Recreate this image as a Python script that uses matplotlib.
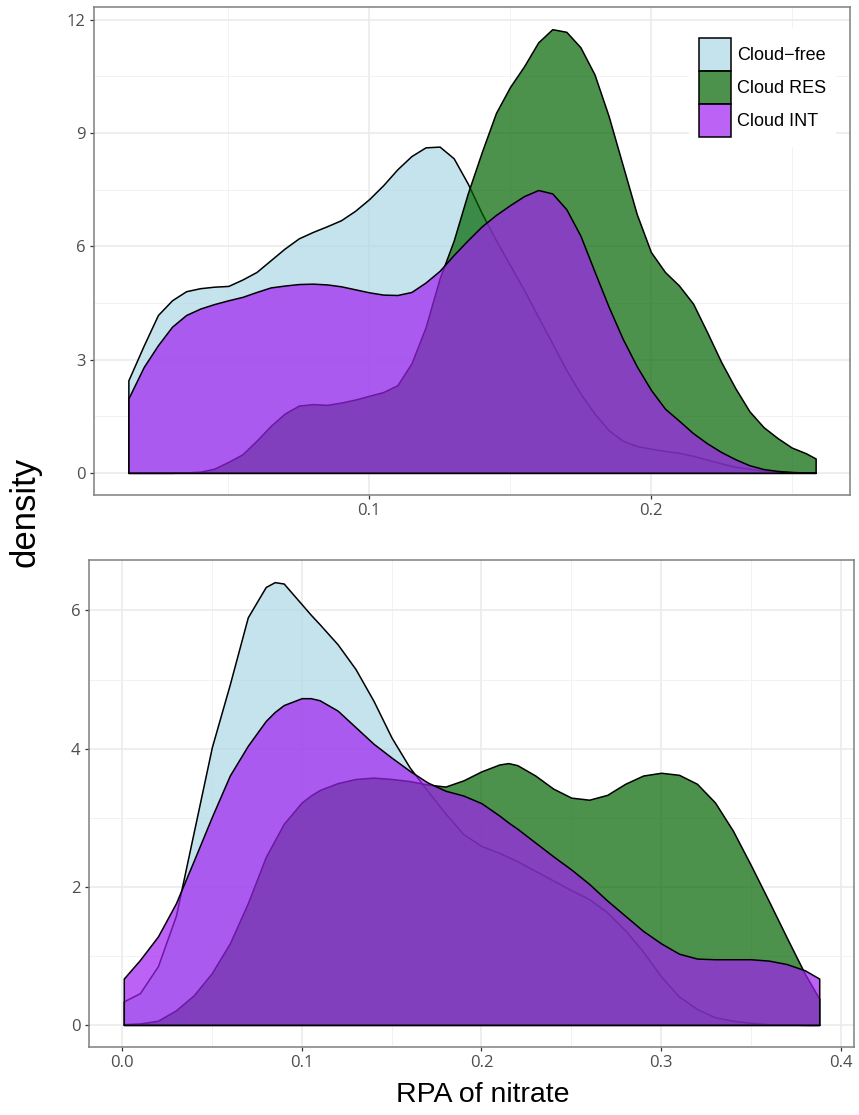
import matplotlib
matplotlib.use("Agg")
import matplotlib.pyplot as plt
from matplotlib.patches import Patch
from matplotlib.colors import to_rgba
from matplotlib.ticker import MultipleLocator

# groups and colours (ggplot named colours, alpha 0.7)
groups = ["Cloud\u2212free", "Cloud RES", "Cloud INT"]
colors = ["#ADD8E6", "#006400", "#A020F0"]

# top panel: density curves
top_x = [0.0145, 0.020, 0.025, 0.030, 0.035, 0.040, 0.045, 0.050, 0.055, 0.060,
         0.065, 0.070, 0.075, 0.080, 0.085, 0.090, 0.095, 0.100, 0.105, 0.110,
         0.115, 0.120, 0.125, 0.130, 0.135, 0.140, 0.145, 0.150, 0.155, 0.160,
         0.165, 0.170, 0.175, 0.180, 0.185, 0.190, 0.195, 0.200, 0.205, 0.210,
         0.215, 0.220, 0.225, 0.230, 0.235, 0.240, 0.245, 0.250, 0.255, 0.2585]
top_free = [2.45, 3.38, 4.18, 4.57, 4.81, 4.89, 4.93, 4.95, 5.12, 5.32,
            5.63, 5.94, 6.21, 6.38, 6.53, 6.69, 6.94, 7.25, 7.62, 8.04,
            8.39, 8.62, 8.64, 8.33, 7.66, 6.87, 6.16, 5.50, 4.84, 4.13,
            3.43, 2.72, 2.10, 1.57, 1.13, 0.85, 0.71, 0.64, 0.58, 0.53,
            0.45, 0.35, 0.25, 0.16, 0.11, 0.06, 0.04, 0.02, 0.01, 0.01]
top_res = [0.00, 0.00, 0.00, 0.00, 0.01, 0.03, 0.11, 0.29, 0.49, 0.85,
           1.24, 1.57, 1.78, 1.82, 1.80, 1.86, 1.94, 2.04, 2.14, 2.32,
           2.90, 3.85, 5.15, 6.15, 7.40, 8.50, 9.53, 10.22, 10.77, 11.40,
           11.75, 11.68, 11.27, 10.55, 9.45, 8.15, 6.85, 5.85, 5.32, 4.96,
           4.48, 3.72, 2.93, 2.24, 1.63, 1.21, 0.92, 0.67, 0.52, 0.38]
top_int = [1.97, 2.81, 3.38, 3.87, 4.18, 4.35, 4.47, 4.57, 4.66, 4.79,
           4.91, 4.96, 5.00, 5.01, 4.99, 4.94, 4.86, 4.78, 4.72, 4.71,
           4.79, 5.04, 5.35, 5.77, 6.16, 6.53, 6.83, 7.09, 7.33, 7.49,
           7.40, 6.98, 6.28, 5.33, 4.40, 3.55, 2.82, 2.20, 1.70, 1.38,
           1.05, 0.78, 0.55, 0.36, 0.20, 0.10, 0.05, 0.02, 0.01, 0.00]

# bottom panel
bot_x = [0.001, 0.01, 0.02, 0.03, 0.04, 0.05, 0.06, 0.07, 0.08, 0.085,
         0.09, 0.10, 0.105, 0.11, 0.12, 0.13, 0.14, 0.15, 0.16, 0.17,
         0.18, 0.19, 0.20, 0.21, 0.215, 0.22, 0.23, 0.24, 0.25, 0.26,
         0.27, 0.28, 0.29, 0.30, 0.31, 0.32, 0.33, 0.34, 0.35, 0.36,
         0.37, 0.38, 0.388]
bot_free = [0.34, 0.46, 0.85, 1.58, 2.80, 4.02, 4.93, 5.90, 6.34, 6.41,
            6.39, 6.09, 5.94, 5.80, 5.51, 5.15, 4.69, 4.16, 3.73, 3.39,
            3.06, 2.76, 2.59, 2.49, 2.43, 2.37, 2.23, 2.09, 1.95, 1.82,
            1.63, 1.37, 1.06, 0.70, 0.41, 0.23, 0.11, 0.06, 0.03, 0.01,
            0.005, 0.0, 0.0]
bot_res = [0.01, 0.02, 0.06, 0.21, 0.43, 0.75, 1.18, 1.76, 2.43, 2.67,
           2.91, 3.22, 3.32, 3.40, 3.50, 3.56, 3.58, 3.56, 3.53, 3.48,
           3.45, 3.54, 3.67, 3.77, 3.79, 3.76, 3.61, 3.42, 3.29, 3.26,
           3.33, 3.49, 3.61, 3.65, 3.62, 3.49, 3.22, 2.81, 2.31, 1.79,
           1.26, 0.74, 0.38]
bot_int = [0.67, 0.94, 1.28, 1.76, 2.38, 3.01, 3.61, 4.04, 4.40, 4.53,
           4.63, 4.73, 4.73, 4.70, 4.55, 4.31, 4.07, 3.87, 3.68, 3.51,
           3.39, 3.32, 3.21, 3.03, 2.93, 2.84, 2.64, 2.44, 2.25, 2.04,
           1.80, 1.58, 1.36, 1.18, 1.03, 0.96, 0.95, 0.95, 0.95, 0.93,
           0.88, 0.79, 0.67]

tick_font = ["Open Sans", "DejaVu Sans"]
label_font = ["Liberation Sans", "DejaVu Sans"]

W, H = 859, 1115
fig = plt.figure(figsize=(W / 100, H / 100), dpi=100)

def px_axes(l, t, r, b):
    return fig.add_axes([l / W, 1 - b / H, (r - l) / W, (b - t) / H])

ax1 = px_axes(94, 7, 850, 495)
ax2 = px_axes(89, 560, 854, 1047)

def panel(ax, x, series, xmin, ymaj, ymin, xticks, xlabels):
    for y, c in zip(series, colors):
        ax.fill_between(x, 0, y, facecolor=to_rgba(c, 0.7), edgecolor="black",
                        linewidth=1.1, zorder=3)
    # ggplot style 5% expansion
    xr = x[-1] - x[0]
    ax.set_xlim(x[0] - 0.05 * xr, x[-1] + 0.05 * xr)
    ytop = max(max(s) for s in series)
    ax.set_ylim(-0.05 * ytop, 1.05 * ytop)
    ax.xaxis.set_minor_locator(MultipleLocator(xmin))
    ax.yaxis.set_major_locator(MultipleLocator(ymaj))
    ax.yaxis.set_minor_locator(MultipleLocator(ymin))
    ax.set_xticks(xticks)
    ax.set_xticklabels(xlabels)
    ax.grid(which="major", color="#ebebeb", linewidth=1.2, zorder=0)
    ax.grid(which="minor", color="#f2f2f2", linewidth=0.7, zorder=0)
    ax.set_axisbelow(True)
    ax.tick_params(which="major", direction="out", length=3, width=0.9,
                   color="#333333", labelcolor="#4d4d4d", labelsize=12, pad=3)
    ax.tick_params(which="minor", length=0)
    for lab in ax.get_xticklabels() + ax.get_yticklabels():
        lab.set_family(tick_font)
    for s in ax.spines.values():
        s.set_color("#7f7f7f")
        s.set_linewidth(1.1)

panel(ax1, top_x, [top_free, top_res, top_int], 0.05, 3, 1.5,
      [0.1, 0.2], ["0.1", "0.2"])
panel(ax2, bot_x, [bot_free, bot_res, bot_int], 0.05, 2, 1,
      [0.0, 0.1, 0.2, 0.3, 0.4], ["0.0", "0.1", "0.2", "0.3", "0.4"])

handles = [Patch(facecolor=to_rgba(c, 0.7), edgecolor="black", linewidth=1.1)
           for c in colors]
ax1.legend(handles, groups, loc="upper left",
           bbox_to_anchor=(689 / W, 1 - 28 / H), bbox_transform=fig.transFigure,
           prop={"family": label_font, "size": 13}, handlelength=1.78,
           handleheight=2.44, handletextpad=0.35, labelspacing=0.0,
           borderpad=0.55, borderaxespad=0, frameon=True, fancybox=False,
           framealpha=1, facecolor="white", edgecolor="none")

fig.text(25 / W, 1 - 512 / H, "density", rotation=90, ha="center", va="center",
         family=label_font, fontsize=25)
fig.text(483 / W, 1 - 1095 / H, "RPA of nitrate", ha="center", va="center",
         family=label_font, fontsize=20.5)

fig.savefig("out.png", dpi=100)
